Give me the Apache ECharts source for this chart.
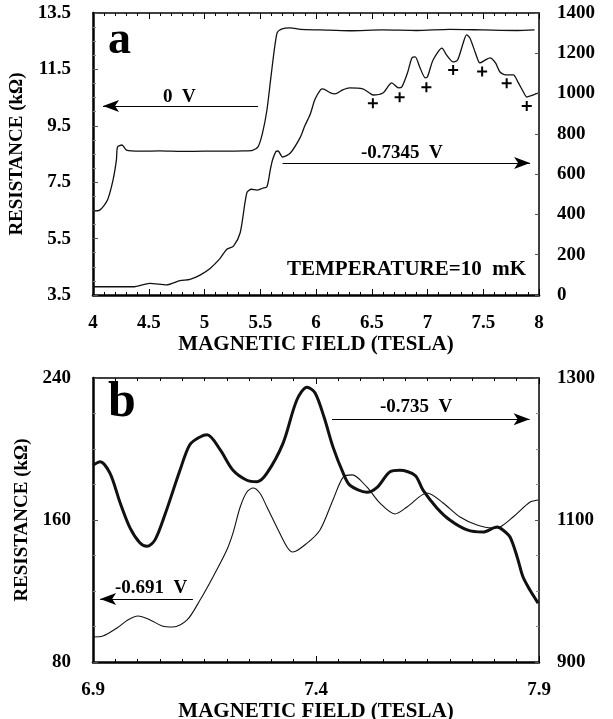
<!DOCTYPE html>
<html>
<head>
<meta charset="utf-8">
<script src="https://cdn.jsdelivr.net/npm/echarts@6/dist/echarts.min.js"></script>
<style>
  html, body { margin: 0; padding: 0; background: #fff; }
  #chart { width: 613px; height: 719px; }
</style>
</head>
<body>
<div id="chart"></div>
<script>
// === panel a: 4-8 T sweep ===
// 0 V trace (left axis, kOhm)
const fieldA0 = [4.00, 4.06, 4.13, 4.18, 4.21, 4.22, 4.26, 4.30, 4.42, 4.60, 4.80, 5.00, 5.20, 5.35, 5.43, 5.48, 5.52, 5.56, 5.60, 5.65, 5.69, 5.77, 5.86, 6.04, 6.30, 6.60, 6.90, 7.20, 7.50, 7.80, 7.96]
const resA0 = [6.48, 6.51, 6.87, 7.58, 8.29, 8.75, 8.82, 8.64, 8.60, 8.61, 8.59, 8.60, 8.60, 8.61, 8.63, 8.75, 9.24, 10.06, 11.37, 12.79, 12.93, 12.97, 12.92, 12.90, 12.87, 12.90, 12.88, 12.92, 12.90, 12.88, 12.90]
// -0.7345 V trace (right axis, kOhm)
const fieldA1 = [4.00, 4.36, 4.51, 4.66, 4.78, 4.87, 4.96, 5.05, 5.14, 5.20, 5.26, 5.32, 5.38, 5.42, 5.47, 5.52, 5.56, 5.59, 5.61, 5.64, 5.66, 5.70, 5.77, 5.86, 5.90, 5.95, 5.99, 6.04, 6.06, 6.13, 6.17, 6.24, 6.30, 6.42, 6.48, 6.51, 6.60, 6.68, 6.74, 6.77, 6.82, 6.86, 6.89, 6.93, 6.98, 7.00, 7.05, 7.13, 7.17, 7.23, 7.27, 7.32, 7.35, 7.38, 7.43, 7.47, 7.52, 7.56, 7.61, 7.65, 7.70, 7.77, 7.81, 7.86, 7.89, 7.95, 7.99]
const resA1 = [41, 41, 58, 50, 71, 78, 99, 132, 182, 227, 243, 309, 508, 525, 521, 530, 538, 621, 670, 712, 715, 685, 705, 784, 840, 900, 970, 1018, 1023, 1003, 998, 1018, 1028, 1023, 1003, 993, 1003, 1053, 1028, 1033, 1102, 1177, 1182, 1132, 1078, 1083, 1167, 1226, 1192, 1157, 1167, 1251, 1291, 1276, 1202, 1152, 1167, 1177, 1152, 1107, 1093, 1093, 1058, 1008, 983, 993, 1003]
// "+" markers under the minima
const fieldPlus = [6.51, 6.75, 6.99, 7.23, 7.49, 7.71, 7.89]
const resPlus = [952, 982, 1031, 1117, 1109, 1051, 938]

// === panel b: 6.9-7.9 T zoom ===
// -0.735 V trace, thick (right axis)
const fieldB1 = [6.900, 6.916, 6.938, 6.961, 6.983, 7.005, 7.021, 7.039, 7.061, 7.095, 7.117, 7.140, 7.156, 7.185, 7.214, 7.245, 7.268, 7.290, 7.326, 7.357, 7.380, 7.398, 7.418, 7.438, 7.461, 7.476, 7.514, 7.537, 7.566, 7.588, 7.622, 7.640, 7.671, 7.700, 7.739, 7.774, 7.806, 7.819, 7.835, 7.851, 7.864, 7.880, 7.898]
const resB1 = [1177, 1182, 1166, 1124, 1089, 1068, 1063, 1072, 1107, 1170, 1206, 1217, 1220, 1199, 1170, 1156, 1154, 1166, 1208, 1269, 1287, 1279, 1245, 1203, 1166, 1149, 1139, 1146, 1168, 1170, 1163, 1142, 1117, 1100, 1086, 1083, 1090, 1086, 1076, 1048, 1020, 1001, 983]
// -0.691 V trace, thin (left axis)
const fieldB0 = [6.900, 6.922, 6.954, 6.978, 7.001, 7.028, 7.055, 7.079, 7.111, 7.140, 7.169, 7.200, 7.214, 7.230, 7.245, 7.259, 7.274, 7.290, 7.313, 7.335, 7.348, 7.380, 7.409, 7.438, 7.461, 7.481, 7.514, 7.543, 7.577, 7.604, 7.649, 7.685, 7.723, 7.761, 7.795, 7.813, 7.842, 7.880, 7.898]
const resB0 = [94.1, 94.6, 99.2, 103.7, 105.9, 103.7, 100.3, 99.7, 103.7, 114.9, 127.9, 143.1, 152.7, 167.3, 175.8, 178.0, 175.2, 167.3, 155.5, 144.8, 142.0, 147.0, 154.4, 171.3, 184.2, 185.4, 178.6, 169.6, 163.4, 167.3, 175.2, 169.6, 161.7, 157.2, 155.5, 156.1, 161.7, 170.1, 171.3]

// arrows (data coords: from -> to)
const arrowA0 = [[5.48, 10.2], [4.09, 10.2]]
const arrowA1 = [[5.70, 655], [7.92, 655]]
const arrowB0 = [[7.124, 115.5], [6.916, 115.5]]
const arrowB1 = [[7.436, 1242], [7.879, 1242]]

const FONT = 'Liberation Serif'
const BLACK = '#000'

const zip = (xs, ys) => xs.map((x, i) => [x, ys[i]])

const arrowLine = (pts) => ({
  silent: true,
  symbol: ['none', 'arrow'],
  symbolSize: [9, 16],
  label: { show: false },
  lineStyle: { color: BLACK, width: 1, type: 'solid' },
  emphasis: { disabled: true },
  data: [[{ coord: pts[0] }, { coord: pts[1] }]]
})

const labelStyle = { color: BLACK, fontFamily: FONT, fontWeight: 'bold', fontSize: 19 }

// bottom / top x axis for a grid
const xAxisPair = (gridIndex, min, max, minorSplit, nameGap) => [
  {
    type: 'value', gridIndex, position: 'bottom', min, max, interval: 0.5,
    axisLine: { lineStyle: { color: BLACK, width: 2.5 } },
    axisTick: { inside: true, length: 6, lineStyle: { color: BLACK, width: 1 } },
    minorTick: { show: true, splitNumber: minorSplit, length: 3, lineStyle: { color: BLACK, width: 1 } },
    axisLabel: { ...labelStyle, margin: 19 },
    splitLine: { show: false },
    name: 'MAGNETIC FIELD (TESLA)', nameLocation: 'middle', nameGap,
    nameTextStyle: { ...labelStyle, fontSize: 21 }
  },
  {
    type: 'value', gridIndex, position: 'top', min, max, interval: 0.5,
    axisLine: { lineStyle: { color: BLACK, width: 1.5 } },
    axisTick: { inside: true, length: 6, lineStyle: { color: BLACK, width: 1 } },
    minorTick: { show: true, splitNumber: minorSplit, length: 3, lineStyle: { color: BLACK, width: 1 } },
    axisLabel: { show: false },
    splitLine: { show: false }
  }
]

const yAxisPair = (gridIndex, left, right) => [
  {
    type: 'value', gridIndex, position: 'left',
    min: left.min, max: left.max, interval: left.interval,
    axisLine: { show: true, lineStyle: { color: BLACK, width: 2.5 } },
    axisTick: { show: true, inside: true, length: 5, lineStyle: { color: '#555', width: 1 } },
    minorTick: { show: true, splitNumber: left.minor, length: 3, lineStyle: { color: '#888', width: 1 } },
    axisLabel: { ...labelStyle, margin: 22, formatter: left.fmt },
    splitLine: { show: false },
    name: 'RESISTANCE (k\u03a9)', nameLocation: 'middle', nameGap: 58, nameRotate: 90,
    nameTextStyle: { ...labelStyle, fontSize: 19 }
  },
  {
    type: 'value', gridIndex, position: 'right',
    min: right.min, max: right.max, interval: right.interval,
    axisLine: { show: true, lineStyle: { color: BLACK, width: 1.5 } },
    axisTick: { show: true, inside: true, length: 4, lineStyle: { color: '#555', width: 1 } },
    minorTick: { show: right.minor > 0, splitNumber: right.minor || 1, length: 3, lineStyle: { color: '#888', width: 1 } },
    axisLabel: { ...labelStyle, margin: 18, formatter: (v) => String(Math.round(v)) },
    splitLine: { show: false }
  }
]

const chart = echarts.init(document.getElementById('chart'), null, { renderer: 'canvas' })

const option = {
  animation: false,
  backgroundColor: '#fff',
  grid: [
    { left: 93, top: 13, width: 446, height: 282, containLabel: false, outerBoundsMode: 'none' },
    { left: 93, top: 378, width: 446, height: 284, containLabel: false, outerBoundsMode: 'none' }
  ],
  xAxis: [
    ...xAxisPair(0, 4, 8, 5, 38),
    ...xAxisPair(1, 6.9, 7.9, 10, 34)
  ],
  yAxis: [
    ...yAxisPair(0,
      { min: 3.5, max: 13.5, interval: 2, minor: 4, fmt: (v) => v.toFixed(1) },
      { min: 0, max: 1400, interval: 200, minor: 0 }),
    ...yAxisPair(1,
      { min: 80, max: 240, interval: 80, minor: 4, fmt: (v) => String(Math.round(v)) },
      { min: 900, max: 1300, interval: 200, minor: 4 })
  ],
  series: [
    {
      name: '0 V', type: 'line', xAxisIndex: 0, yAxisIndex: 0,
      data: zip(fieldA0, resA0), showSymbol: false, smooth: 0.25,
      lineStyle: { color: '#111', width: 1.3 },
      markLine: arrowLine(arrowA0)
    },
    {
      name: '-0.7345 V', type: 'line', xAxisIndex: 0, yAxisIndex: 1,
      data: zip(fieldA1, resA1), showSymbol: false, smooth: 0.25,
      lineStyle: { color: '#111', width: 1.3 },
      markLine: arrowLine(arrowA1)
    },
    {
      name: 'minima', type: 'scatter', xAxisIndex: 0, yAxisIndex: 1,
      data: zip(fieldPlus, resPlus),
      symbol: 'path://M4,0H6V4H10V6H6V10H4V6H0V4H4Z', symbolSize: 10,
      itemStyle: { color: BLACK, opacity: 1 }
    },
    {
      name: '-0.691 V', type: 'line', xAxisIndex: 2, yAxisIndex: 2,
      data: zip(fieldB0, resB0), showSymbol: false, smooth: 0.3,
      lineStyle: { color: '#111', width: 1.1 },
      markLine: arrowLine(arrowB0)
    },
    {
      name: '-0.735 V', type: 'line', xAxisIndex: 2, yAxisIndex: 3,
      data: zip(fieldB1, resB1), showSymbol: false, smooth: 0.3,
      lineStyle: { color: '#111', width: 3 },
      markLine: arrowLine(arrowB1)
    }
  ],
  // panel letters and trace labels
  graphic: [
    { type: 'text', left: 108, top: 18, style: { text: 'a', font: 'bold 46px "Liberation Serif"', fill: BLACK } },
    { type: 'text', left: 108, top: 378, style: { text: 'b', font: 'bold 50px "Liberation Serif"', fill: BLACK } },
    { type: 'text', left: 163, top: 88, style: { text: '0  V', font: 'bold 19px "Liberation Serif"', fill: BLACK } },
    { type: 'text', left: 361, top: 144, style: { text: '-0.7345  V', font: 'bold 19px "Liberation Serif"', fill: BLACK } },
    { type: 'text', left: 287, top: 259, style: { text: 'TEMPERATURE=10  mK', font: 'bold 21px "Liberation Serif"', fill: BLACK } },
    { type: 'text', left: 380, top: 398, style: { text: '-0.735  V', font: 'bold 19px "Liberation Serif"', fill: BLACK } },
    { type: 'text', left: 115, top: 579, style: { text: '-0.691  V', font: 'bold 19px "Liberation Serif"', fill: BLACK } }
  ]
}

chart.setOption(option)
</script>
</body>
</html>
